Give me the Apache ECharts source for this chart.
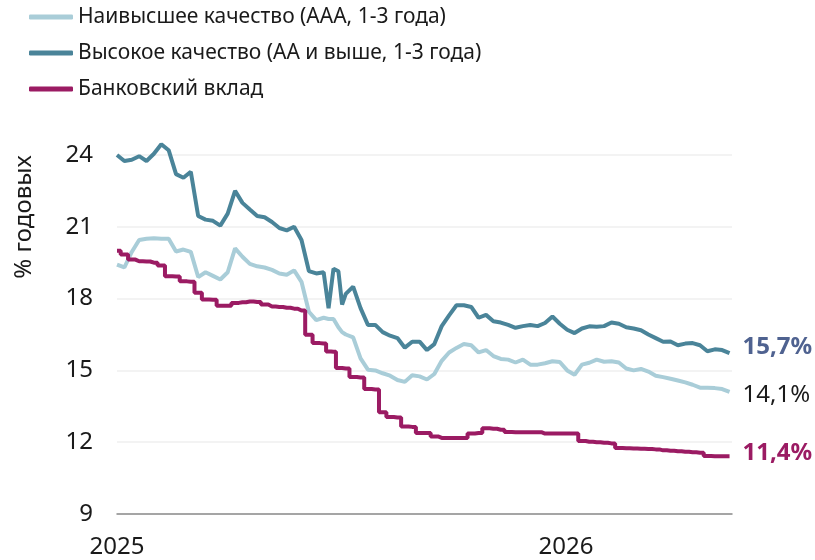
<!DOCTYPE html>
<html>
<head>
<meta charset="UTF-8">
<title>Доходность облигаций и вкладов</title>
<script src="https://cdn.jsdelivr.net/npm/echarts@6/dist/echarts.min.js"></script>
<style>
  html, body { margin: 0; padding: 0; background: #fff; }
  #main { width: 815px; height: 560px; }
</style>
</head>
<body>
<div id="main"></div>
<script>
// даты наблюдений
var dates = [
  '2025-01-01','2025-01-07','2025-01-13','2025-01-19','2025-01-25','2025-01-31',
  '2025-02-06','2025-02-12','2025-02-18','2025-02-24','2025-03-02','2025-03-08',
  '2025-03-14','2025-03-20','2025-03-26','2025-04-01','2025-04-07','2025-04-13',
  '2025-04-19','2025-04-25','2025-05-01','2025-05-07','2025-05-13','2025-05-19',
  '2025-05-25','2025-05-31','2025-06-06','2025-06-12','2025-06-18','2025-06-22',
  '2025-06-26','2025-06-30','2025-07-03','2025-07-06','2025-07-12','2025-07-18',
  '2025-07-24','2025-07-30','2025-08-05','2025-08-11','2025-08-17','2025-08-23',
  '2025-08-29','2025-09-04','2025-09-10','2025-09-16','2025-09-22','2025-09-28',
  '2025-10-04','2025-10-10','2025-10-16','2025-10-22','2025-10-28','2025-11-03',
  '2025-11-09','2025-11-15','2025-11-21','2025-11-27','2025-12-03','2025-12-09',
  '2025-12-15','2025-12-21','2025-12-27','2026-01-02','2026-01-08','2026-01-14',
  '2026-01-20','2026-01-26','2026-02-01','2026-02-07','2026-02-13','2026-02-19',
  '2026-02-25','2026-03-03','2026-03-09','2026-03-15','2026-03-21','2026-03-27',
  '2026-04-02','2026-04-08','2026-04-14','2026-04-20','2026-04-26','2026-05-02',
  '2026-05-08','2026-05-14'
];

// Наивысшее качество (ААА, 1-3 года)
var aaa = [
  19.42,19.3,19.95,20.45,20.5,20.52,20.5,20.5,19.97,20.05,19.95,18.9,
  19.1,18.95,18.8,19.1,20.1,19.75,19.45,19.35,19.3,19.2,19.05,19.0,
  19.18,18.7,17.45,17.1,17.2,17.15,17.15,16.8,16.6,16.5,16.38,15.5,
  15.03,15.0,14.88,14.78,14.6,14.52,14.8,14.75,14.62,14.85,15.4,15.75,
  15.94,16.1,16.05,15.75,15.85,15.6,15.48,15.45,15.33,15.45,15.24,15.24,
  15.3,15.38,15.35,15.0,14.82,15.24,15.32,15.45,15.36,15.38,15.33,15.08,
  15.0,15.06,14.95,14.78,14.72,14.65,14.58,14.5,14.4,14.28,14.28,14.26,
  14.22,14.1
];

// Высокое качество (АА и выше, 1-3 года)
var aaUp = [
  24.0,23.75,23.8,23.95,23.75,24.05,24.45,24.2,23.2,23.05,23.3,21.45,
  21.3,21.25,21.05,21.55,22.5,22.0,21.72,21.45,21.4,21.2,20.95,20.85,
  21.0,20.45,19.15,19.05,19.1,17.6,19.25,19.14,17.75,18.2,18.5,17.6,
  16.9,16.9,16.6,16.45,16.35,15.95,16.2,16.2,15.85,16.1,16.85,17.3,
  17.72,17.72,17.65,17.2,17.32,17.05,17.0,16.9,16.78,16.85,16.9,16.85,
  16.98,17.25,16.95,16.7,16.56,16.75,16.84,16.82,16.85,17.0,16.95,16.8,
  16.75,16.68,16.5,16.35,16.2,16.21,16.05,16.12,16.14,16.05,15.8,15.88,
  15.85,15.72
];

// Банковский вклад
var deposit = [
  20.0,19.84,19.63,19.56,19.55,19.5,19.38,18.93,18.92,18.72,18.7,18.24,
  17.96,17.95,17.7,17.7,17.82,17.85,17.88,17.86,17.75,17.67,17.65,17.62,
  17.58,17.5,16.49,16.14,16.12,15.79,15.78,15.1,15.1,15.08,14.72,14.7,
  14.22,14.2,13.25,13.05,13.03,12.66,12.64,12.38,12.38,12.24,12.18,12.18,
  12.18,12.18,12.36,12.38,12.58,12.56,12.52,12.43,12.42,12.42,12.42,12.42,
  12.36,12.36,12.36,12.36,12.36,12.05,12.02,12.0,11.98,11.95,11.76,11.75,
  11.74,11.73,11.72,11.7,11.66,11.64,11.62,11.6,11.58,11.56,11.42,11.41,
  11.41,11.41
];

var yTicks = [9, 12, 15, 18, 21, 24];

var FONT = 'Noto Sans';

function pairs(vals) {
  return vals.map(function (v, i) { return [dates[i], v]; });
}
function pct(p) {
  return p.value[1].toFixed(1).replace('.', ',') + '%';
}

var myChart = echarts.init(document.getElementById('main'));

myChart.setOption({
  animation: false,
  textStyle: { fontFamily: FONT },
  legend: {
    orient: 'vertical',
    left: 29,
    top: 4,
    padding: 0,
    icon: 'roundRect',
    itemWidth: 44,
    itemHeight: 5,
    itemGap: 10,
    itemTextGap: 10,
    itemStyle: { borderWidth: 0 },
    textStyle: { fontFamily: FONT, fontSize: 21, color: '#1a1a1a', lineHeight: 26 },
    data: ['Наивысшее качество (ААА, 1-3 года)', 'Высокое качество (АА и выше, 1-3 года)', 'Банковский вклад']
  },
  graphic: [{
    type: 'text',
    x: 24,
    y: 217,
    rotation: Math.PI / 2,
    style: {
      text: '% годовых',
      fontFamily: FONT,
      fontSize: 24,
      fill: '#1a1a1a',
      align: 'center',
      verticalAlign: 'middle'
    }
  }],
  grid: { left: 117, right: 83, top: 155, bottom: 46 },
  xAxis: {
    type: 'time',
    min: '2025-01-01',
    max: '2026-05-16',
    axisLine: { show: true, lineStyle: { color: '#8c8c8c', width: 1.5 } },
    axisTick: { show: false },
    splitLine: { show: false },
    axisLabel: {
      showMinLabel: true,
      hideOverlap: false,
      margin: 21,
      fontFamily: FONT,
      fontSize: 24,
      color: '#1a1a1a',
      formatter: function (v) {
        var d = new Date(v);
        return (d.getMonth() === 0 && d.getDate() === 1) ? String(d.getFullYear()) : '';
      }
    }
  },
  yAxis: {
    type: 'value',
    min: yTicks[0],
    max: yTicks[yTicks.length - 1],
    interval: 3,
    axisLine: { show: false },
    axisTick: { show: false },
    splitLine: { lineStyle: { color: '#efefef', width: 1.5 } },
    axisLabel: { margin: 24, fontFamily: FONT, fontSize: 24, color: '#1a1a1a' }
  },
  series: [{
    name: 'Наивысшее качество (ААА, 1-3 года)',
    type: 'line',
    data: pairs(aaa),
    showSymbol: false,
    clip: false,
    color: '#a9cdd8',
    lineStyle: { width: 4, color: '#a9cdd8' },
    endLabel: {
      show: true, formatter: pct, distance: 13, offset: [0, 3],
      fontFamily: FONT, fontSize: 24, color: '#1a1a1a'
    }
  }, {
    name: 'Высокое качество (АА и выше, 1-3 года)',
    type: 'line',
    data: pairs(aaUp),
    showSymbol: false,
    clip: false,
    color: '#4a8499',
    lineStyle: { width: 4, color: '#4a8499' },
    endLabel: {
      show: true, formatter: pct, distance: 13, offset: [0, -6],
      fontFamily: FONT, fontSize: 24, fontWeight: 'bold', color: '#4f6290'
    }
  }, {
    name: 'Банковский вклад',
    type: 'line',
    step: 'middle',
    data: pairs(deposit),
    showSymbol: false,
    clip: false,
    color: '#9b1b63',
    lineStyle: { width: 4, color: '#9b1b63' },
    endLabel: {
      show: true, formatter: pct, distance: 13, offset: [0, -3],
      fontFamily: FONT, fontSize: 24, fontWeight: 'bold', color: '#9b1b63'
    }
  }]
});
</script>
</body>
</html>
